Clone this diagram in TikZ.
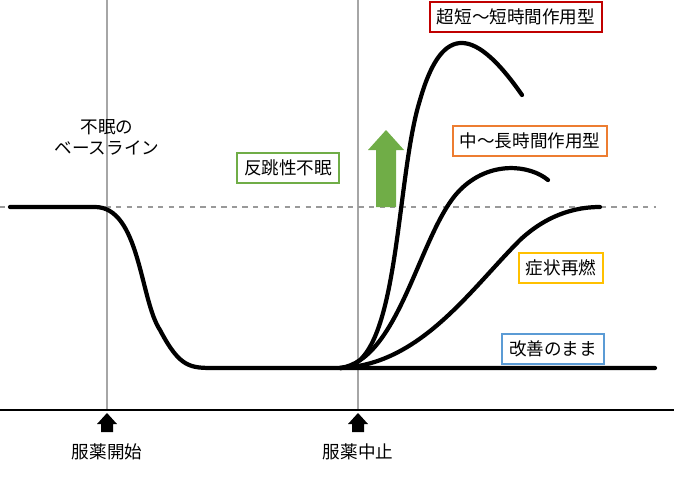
\documentclass[tikz,border=0pt]{standalone}
\usepackage{fontspec}
\setmainfont{Noto Sans CJK JP}
\usetikzlibrary{positioning}
\definecolor{boxred}{RGB}{192,0,0}
\definecolor{boxorange}{RGB}{237,125,49}
\definecolor{boxgreen}{RGB}{112,173,71}
\definecolor{boxgold}{RGB}{255,192,0}
\definecolor{boxblue}{RGB}{91,155,213}
\tikzset{
	tag/.style={draw=#1, line width=1.3pt, fill=white, font=\fontsize{10}{11}\selectfont, inner sep=4pt},
	lbl/.style={font=\fontsize{10}{12}\selectfont, align=center},
	curve/.style={line width=2.4pt, line cap=round}
}
\begin{document}
\begin{tikzpicture}[x=0.02cm, y=-0.02cm]
	\useasboundingbox (0,0) rectangle (674,480);
	
	%%% Оси
	\draw[gray!70, line width=0.8pt] (107,0) -- (107,410);
	\draw[gray!70, line width=0.8pt] (358,0) -- (358,410);
	\draw[gray!80, dashed, line width=0.6pt] (0,207) -- (656,207);
	\draw[line width=1pt] (0,410) -- (674,410);
	
	%%% Кривые
	\draw[curve] (10,207) -- (95,207) .. controls (140,207) and (140,300) .. (160,330)
		.. controls (180,368) and (190,368) .. (215,368) -- (655,368);
	\coordinate (split) at (340,368);
	\draw[curve] (split) .. controls (400,370) and (395,180) .. (420,100)
		.. controls (440,30) and (470,20) .. (522,95);
	\draw[curve] (split) .. controls (400,360) and (420,230) .. (460,190)
		.. controls (490,160) and (530,165) .. (548,180);
	\draw[curve] (split) .. controls (420,365) and (470,290) .. (520,240)
		.. controls (550,212) and (580,207) .. (600,207);
	
	% Стрелка
	\fill[boxgreen] (376,207) -- (376,150) -- (368,150) -- (386,130) -- (404,150) -- (396,150) -- (396,207) -- cycle;
	\fill (101,432) -- (101,424) -- (97,424) -- (107,413) -- (117,424) -- (113,424) -- (113,432) -- cycle;
	\fill (352,432) -- (352,424) -- (348,424) -- (358,413) -- (368,424) -- (364,424) -- (364,432) -- cycle;
	
	%%% Подписи
	\node[lbl] (base) at (107,137) {不眠の\\ベースライン};
	\node[lbl] (start) at (107,452) {服薬開始};
	\node[lbl] (stop) at (358,452) {服薬中止};
	\node[tag=boxred] (ultra) at (516,17) {超短〜短時間作用型};
	\node[tag=boxorange] (mid) at (530,141) {中〜長時間作用型};
	\node[tag=boxgreen] (rebound) at (288,168) {反跳性不眠};
	\node[tag=boxgold] (relapse) at (561,268) {症状再燃};
	\node[tag=boxblue] (keep) at (553,349) {改善のまま};
\end{tikzpicture}
\end{document}
